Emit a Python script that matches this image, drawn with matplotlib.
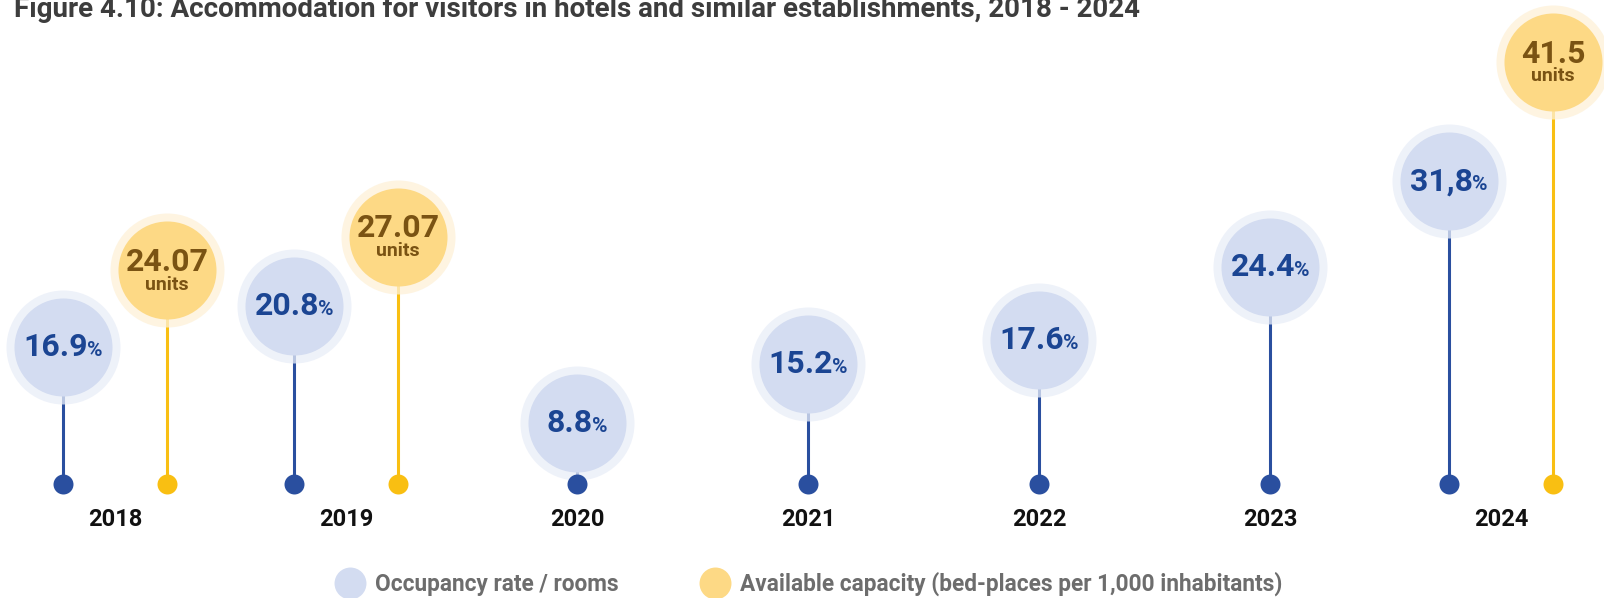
import matplotlib
matplotlib.use("Agg")
import matplotlib.pyplot as plt
from matplotlib.lines import Line2D
from matplotlib.offsetbox import AnnotationBbox, HPacker, VPacker, TextArea
import numpy as np

# Occupancy rate of rooms (%) per year
years = ['2018', '2019', '2020', '2021', '2022', '2023', '2024']
occupancy = [16.9, 20.8, 8.8, 15.2, 17.6, 24.4, 31.8]
occupancy_labels = ['16.9', '20.8', '8.8', '15.2', '17.6', '24.4', '31,8']

# Available capacity (bed-places per 1,000 inhabitants), only some years
capacity_years = ['2018', '2019', '2024']
capacity = [24.07, 27.07, 41.5]
capacity_labels = ['24.07', '27.07', '41.5']

title = 'Figure 4.10: Accommodation for visitors in hotels and similar establishments, 2018 - 2024'
legend_labels = ['Occupancy rate / rooms', 'Available capacity (bed-places per 1,000 inhabitants)']

BLUE_DOT = '#2a4f9f'
BLUE_FILL = '#d3dcf1'
BLUE_HALO = '#e9eef8'
BLUE_TEXT = '#1b4593'
GOLD_DOT = '#f9bf12'
GOLD_FILL = '#fdd985'
GOLD_HALO = '#fef1d8'
GOLD_TEXT = '#7a5313'

FONT = ['Roboto', 'DejaVu Sans']

W, H = 1604, 598
fig = plt.figure(figsize=(W / 100, H / 100), dpi=100)
renderer = fig.canvas.get_renderer()


def fit_size(text, width_px, **kw):
    # font size that makes the text span width_px
    t = fig.text(0, 0, text, fontsize=10, **kw)
    w = t.get_window_extent(renderer).width
    t.remove()
    return 10 * width_px / w


base_px = 484
ax = fig.add_axes([0, (H - base_px) / H, 1, base_px / H])

# circles sit on a mild power scale so the tallest ones still fit
ax.set_yscale('function', functions=(lambda v: np.sign(v) * np.abs(v) ** 1.25,
                                     lambda v: np.sign(v) * np.abs(v) ** 0.8))
ax.set_ylim(0, 46.3)
step = 231.0
ax.set_xlim(-115 / step, (W - 115) / step)
ax.axis('off')

pair_offset = 0.225
x_year = np.arange(len(years))
x_occ = np.array([i - pair_offset if y in capacity_years else i for i, y in enumerate(years)])
x_cap = np.array([years.index(y) + pair_offset for y in capacity_years])

halo_s, fill_s, dot_s = 6740, 4980, 207


def lollipops(xs, vals, dot, fill, halo):
    ax.vlines(xs, 0, vals, color=dot, lw=2.2, zorder=1)
    ax.scatter(xs, vals, s=halo_s, color=halo, alpha=0.75, lw=0, zorder=2, clip_on=False)
    ax.scatter(xs, vals, s=fill_s, color=fill, lw=0, zorder=3, clip_on=False)
    ax.scatter(xs, np.zeros(len(xs)), s=dot_s, color=dot, lw=0, zorder=4, clip_on=False)


lollipops(x_occ, occupancy, BLUE_DOT, BLUE_FILL, BLUE_HALO)
lollipops(x_cap, capacity, GOLD_DOT, GOLD_FILL, GOLD_HALO)

# value labels inside the circles
for x, v, lab in zip(x_occ, occupancy, occupancy_labels):
    box = HPacker(children=[
        TextArea(lab, textprops=dict(fontsize=23, fontweight='bold', color=BLUE_TEXT, family=FONT)),
        TextArea('%', textprops=dict(fontsize=15, fontweight='bold', color=BLUE_TEXT, family=FONT)),
    ], align='baseline', pad=0, sep=-1)
    ax.add_artist(AnnotationBbox(box, (x, v), frameon=False, pad=0, zorder=5,
                                 box_alignment=(0.5, 0.5), annotation_clip=False))

for x, v, lab in zip(x_cap, capacity, capacity_labels):
    box = VPacker(children=[
        TextArea(lab, textprops=dict(fontsize=23, fontweight='bold', color=GOLD_TEXT, family=FONT)),
        TextArea('units', textprops=dict(fontsize=14, fontweight='bold', color=GOLD_TEXT, family=FONT)),
    ], align='center', pad=0, sep=-1)
    ax.add_artist(AnnotationBbox(box, (x, v), frameon=False, pad=0, zorder=5,
                                 box_alignment=(0.5, 0.5), annotation_clip=False))

# year labels under each group
for i, y in enumerate(years):
    ax.annotate(y, (x_year[i], 0), xytext=(0, -25.5), textcoords='offset points',
                ha='center', va='center', fontsize=17, fontweight='bold',
                color='#111111', family=FONT, annotation_clip=False)

title_fs = fit_size(title, 1131, family=FONT, fontweight='bold')
fig.text(14 / W, 1 - 17 / H, title, ha='left', va='baseline', fontsize=title_fs,
         fontweight='bold', color='#3d3d3d', family=FONT)

# legend text sized so both entries keep their width
leg_fs = 0.5 * (fit_size(legend_labels[0], 242, family=FONT, fontweight='bold') +
                fit_size(legend_labels[1], 544, family=FONT, fontweight='bold'))
marker_pt = 23
handles = [Line2D([], [], ls='none', marker='o', markersize=marker_pt, markeredgewidth=0, color=BLUE_FILL),
           Line2D([], [], ls='none', marker='o', markersize=marker_pt, markeredgewidth=0, color=GOLD_FILL)]
leg = fig.legend(handles, legend_labels, loc='center', bbox_to_anchor=(808 / W, (H - 584) / H),
                 ncol=2, frameon=False, handlelength=marker_pt / leg_fs,
                 handletextpad=6.5 / leg_fs, columnspacing=57.6 / leg_fs,
                 borderpad=0, borderaxespad=0,
                 prop=dict(family=FONT, weight='bold', size=leg_fs))
for t in leg.get_texts():
    t.set_color('#6d6d6d')

fig.savefig('out.png', dpi=100)
